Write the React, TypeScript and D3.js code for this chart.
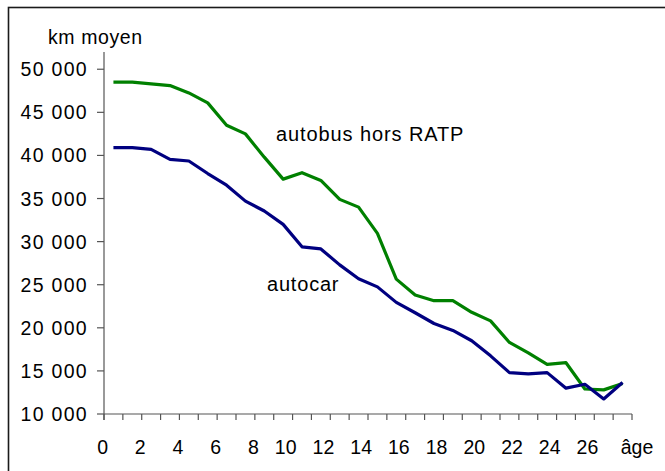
import React, { useEffect, useRef } from 'react';
import * as d3 from 'd3';

// ages (one category per year, labels every 2 years)
const ages: number[] = [0, 1, 2, 3, 4, 5, 6, 7, 8, 9, 10, 11, 12, 13, 14, 15, 16, 17, 18, 19, 20, 21, 22, 23, 24, 25, 26, 27];

// km moyen par âge
const autobus: number[] = [
  48500, 48500, 48300, 48100, 47250, 46100, 43500, 42500, 39800, 37250, 38000, 37100, 34900, 34000,
  30950, 25650, 23800, 23150, 23150, 21800, 20800, 18300, 17100, 15750, 15950, 12900, 12800, 13550,
];
const autocar: number[] = [
  40900, 40900, 40700, 39550, 39350, 37900, 36550, 34700, 33550, 32000, 29400, 29150, 27300, 25700,
  24750, 22950, 21750, 20500, 19700, 18500, 16750, 14800, 14650, 14800, 13000, 13450, 11750, 13650,
];

const yTicks: number[] = [10000, 15000, 20000, 25000, 30000, 35000, 40000, 45000, 50000];
const xLabels: number[] = [0, 2, 4, 6, 8, 10, 12, 14, 16, 18, 20, 22, 24, 26];

const FONT = "'Liberation Sans', Arial, sans-serif";

const App = () => {
  const ref = useRef<SVGSVGElement>(null);

  useEffect(() => {
    const svg = d3.select(ref.current);
    svg.selectAll('*').remove();

    const left = 104;
    const right = 632;
    const top = 52;
    const bottom = 414;

    const x = d3.scaleLinear().domain([0, ages.length]).range([left, right]);
    const y = d3.scaleLinear().domain([10000, 52000]).range([bottom, top]);

    // outer frame (runs off the picture on the right and bottom)
    svg
      .append('rect')
      .attr('x', 8.5)
      .attr('y', 7.5)
      .attr('width', 720)
      .attr('height', 520)
      .attr('fill', 'none')
      .attr('stroke', '#1a1a1a')
      .attr('stroke-width', 1.6);

    const fmt = (v: number) => d3.format(',')(v).replace(',', ' ');

    // y axis
    const gy = svg.append('g');
    gy.append('line')
      .attr('x1', left)
      .attr('x2', left)
      .attr('y1', top)
      .attr('y2', bottom + 6)
      .attr('stroke', '#555')
      .attr('stroke-width', 1.2);
    gy.selectAll('line.tick')
      .data(yTicks)
      .join('line')
      .attr('class', 'tick')
      .attr('x1', left - 7)
      .attr('x2', left)
      .attr('y1', d => y(d))
      .attr('y2', d => y(d))
      .attr('stroke', '#555')
      .attr('stroke-width', 1.2);
    gy.selectAll('text')
      .data(yTicks)
      .join('text')
      .attr('x', 88)
      .attr('y', d => y(d))
      .attr('dy', '0.36em')
      .attr('text-anchor', 'end')
      .attr('font-family', FONT)
      .attr('font-size', 19.5)
      .attr('letter-spacing', 1.3)
      .attr('fill', '#000')
      .text(d => fmt(d));

    svg
      .append('text')
      .attr('x', 48)
      .attr('y', 44)
      .attr('font-family', FONT)
      .attr('font-size', 19.5)
      .attr('letter-spacing', 0.6)
      .attr('fill', '#000')
      .text('km moyen');

    // x axis
    const gx = svg.append('g');
    gx.append('line')
      .attr('x1', left)
      .attr('x2', right)
      .attr('y1', bottom)
      .attr('y2', bottom)
      .attr('stroke', '#555')
      .attr('stroke-width', 1.2);
    gx.selectAll('line.tick')
      .data(d3.range(0, ages.length + 1))
      .join('line')
      .attr('class', 'tick')
      .attr('x1', d => x(d))
      .attr('x2', d => x(d))
      .attr('y1', bottom)
      .attr('y2', bottom + 6)
      .attr('stroke', '#555')
      .attr('stroke-width', 1.2);
    gx.selectAll('text')
      .data(xLabels)
      .join('text')
      .attr('x', d => x(d) + 4)
      .attr('y', 454)
      .attr('text-anchor', 'end')
      .attr('font-family', FONT)
      .attr('font-size', 19.5)
      .attr('fill', '#000')
      .text(d => d);
    svg
      .append('text')
      .attr('x', right + 5)
      .attr('y', 454)
      .attr('text-anchor', 'middle')
      .attr('font-family', FONT)
      .attr('font-size', 19.5)
      .attr('fill', '#000')
      .text('âge');

    const line = (vals: number[]) =>
      d3
        .line<number>()
        .x((_, i) => x(ages[i] + 0.5))
        .y(d => y(d))(vals);

    svg
      .append('path')
      .attr('d', line(autobus))
      .attr('fill', 'none')
      .attr('stroke', '#008000')
      .attr('stroke-width', 3.2)
      .attr('stroke-linejoin', 'round');

    svg
      .append('path')
      .attr('d', line(autocar))
      .attr('fill', 'none')
      .attr('stroke', '#000080')
      .attr('stroke-width', 3.2)
      .attr('stroke-linejoin', 'round');

    // series labels
    svg
      .append('text')
      .attr('x', 276)
      .attr('y', 141)
      .attr('font-family', FONT)
      .attr('font-size', 20)
      .attr('letter-spacing', 0.9)
      .attr('fill', '#000')
      .text('autobus hors RATP');
    svg
      .append('text')
      .attr('x', 267)
      .attr('y', 291)
      .attr('font-family', FONT)
      .attr('font-size', 20)
      .attr('letter-spacing', 0.8)
      .attr('fill', '#000')
      .text('autocar');
  }, []);

  return (
    <svg
      ref={ref}
      width={665}
      height={471}
      style={{ position: 'absolute', left: 0, top: 0, display: 'block', background: '#fff' }}
    />
  );
};

export default App;
